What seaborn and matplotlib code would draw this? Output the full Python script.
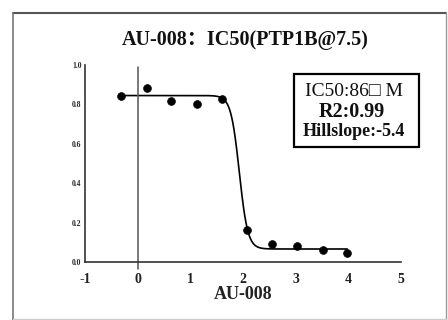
import numpy as np
import pandas as pd
import matplotlib
matplotlib.use('Agg')
import matplotlib.pyplot as plt
import matplotlib.transforms as mtransforms
import seaborn as sns
from matplotlib.lines import Line2D

# dose (log scale) and normalised response
log_dose = [-0.31, 0.18, 0.64, 1.12, 1.60, 2.08, 2.55, 3.03, 3.51, 3.98]
response = [0.844, 0.885, 0.817, 0.804, 0.826, 0.162, 0.090, 0.081, 0.061, 0.044]

# fitted 4PL parameters (from the picture)
top, bottom = 0.845, 0.066
log_ic50 = 1.93
hill = -5.4

x_ticks = [-1, 0, 1, 2, 3, 4, 5]
y_ticks = [0.0, 0.2, 0.4, 0.6, 0.8, 1.0]

df = pd.DataFrame({'dose': log_dose, 'resp': response})
xf = np.linspace(min(log_dose), max(log_dose), 400)
fit = pd.DataFrame({'dose': xf,
                    'resp': bottom + (top - bottom) / (1 + 10 ** ((xf - log_ic50) * -hill))})

sns.set_style('white')
plt.rcParams['font.family'] = ['Liberation Serif', 'DejaVu Sans']

fig = plt.figure(figsize=(4.48, 3.2), dpi=100)
ax = fig.add_axes([85 / 448, 58 / 320, 316 / 448, 197 / 320])

sns.lineplot(data=fit, x='dose', y='resp', color='black', lw=1.2, ax=ax)
sns.scatterplot(data=df, x='dose', y='resp', color='black', s=32, edgecolor='black', ax=ax, zorder=3)

# vertical axis through x = 0
ax.plot([0, 0], [-0.035, 0.99], color='#555555', lw=1.1, clip_on=False)

ax.set_xlim(-1, 5)
ax.set_ylim(0, 1.0)
ax.set_xticks(x_ticks)
ax.set_xticklabels([str(t) for t in x_ticks], fontsize=10, fontweight='bold', color='#222222')
shift = mtransforms.ScaledTranslation(5 / 100, 0, fig.dpi_scale_trans)
for lab in ax.get_xticklabels():
    lab.set_transform(lab.get_transform() + shift)
ax.set_yticks(y_ticks)
ax.set_yticklabels([f'{t:.1f}' for t in y_ticks], fontsize=5.5, fontweight='bold')
ax.tick_params(axis='x', direction='in', length=3, width=1, color='#333333', pad=8)
ax.tick_params(axis='y', direction='out', length=1.5, width=1, color='#333333', pad=1)
for s in ['top', 'right']:
    ax.spines[s].set_visible(False)
for s in ['left', 'bottom']:
    ax.spines[s].set_color('#333333')
    ax.spines[s].set_linewidth(1.2)
ax.set_xlabel('AU-008', fontsize=13, fontweight='bold', labelpad=0, color='#222222')
ax.set_ylabel('')

fig.text(245 / 448, 1 - 40 / 320, 'AU-008：IC50(PTP1B@7.5)', ha='center', va='center',
         fontsize=14.5, fontweight='bold', color='#111111',
         family=['Liberation Serif', 'Noto Sans CJK SC'])

# parameter box
box = plt.Rectangle((294 / 448, 1 - 147 / 320), 125 / 448, 73 / 320, transform=fig.transFigure,
                    fill=False, edgecolor='black', lw=1.6)
fig.add_artist(box)
fig.text(354 / 448, 1 - 91 / 320, 'IC50:86\u25a1 M', ha='center', va='center', fontsize=14,
         color='#111111', family=['Liberation Serif', 'DejaVu Sans'])
fig.text(352 / 448, 1 - 112 / 320, 'R2:0.99', ha='center', va='center', fontsize=14.5,
         fontweight='bold', color='#111111')
fig.text(354 / 448, 1 - 131 / 320, 'Hillslope:-5.4', ha='center', va='center', fontsize=13,
         fontweight='bold', color='#111111')

# outer frame
fig.add_artist(Line2D([13 / 448, 446 / 448], [1 - 13 / 320, 1 - 13 / 320], color='#555555', lw=1.5, transform=fig.transFigure))
fig.add_artist(Line2D([13 / 448, 13 / 448], [1 - 13 / 320, 0], color='#777777', lw=1.2, transform=fig.transFigure))
fig.add_artist(Line2D([446 / 448, 446 / 448], [1 - 13 / 320, 0], color='#999999', lw=1.0, transform=fig.transFigure))
fig.add_artist(Line2D([13 / 448, 446 / 448], [1.5 / 320, 1.5 / 320], color='#cccccc', lw=1.0, transform=fig.transFigure))

fig.savefig('out.png', dpi=100)
